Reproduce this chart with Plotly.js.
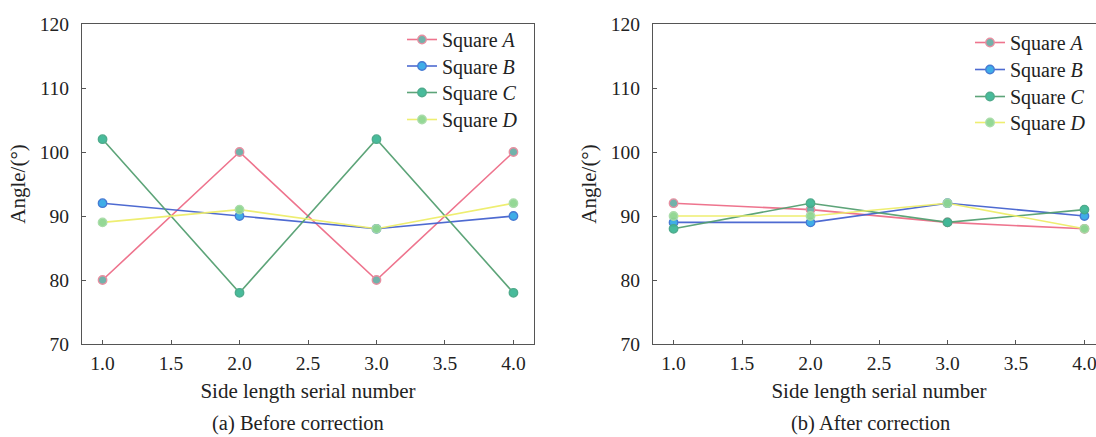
<!DOCTYPE html>
<html>
<head>
<meta charset="utf-8">
<script src="https://cdn.plot.ly/plotly-3.0.1.min.js"></script>
<style>
html,body{margin:0;padding:0;width:1096px;height:437px;overflow:hidden;background:#fff;}
#chart{width:1110px;height:437px;}
</style>
</head>
<body>
<div id="chart"></div>
<script>
// ---- data ----
const sideNumbers = [1, 2, 3, 4];
const seriesNames = ["Square <i>A</i>", "Square <i>B</i>", "Square <i>C</i>", "Square <i>D</i>"];
const beforeA = [80, 100, 80, 100];
const beforeB = [92, 90, 88, 90];
const beforeC = [102, 78, 102, 78];
const beforeD = [89, 91, 88, 92];
const afterA = [92, 91, 89, 88];
const afterB = [89, 89, 92, 90];
const afterC = [88, 92, 89, 91];
const afterD = [90, 90, 92, 88];
const xTitle = "Side length serial number";
const yTitle = "Angle/(°)";
const captions = ["(a) Before correction", "(b) After correction"];

// ---- styles ----
const W = 1110, H = 437;
const lineColors = ["#ee6d88", "#4563cf", "#55a072", "#eeee6a"];
const markerFills = ["#6aaea6", "#35a9e6", "#3fb896", "#8fd690"];
const markerEdges = ["#e58a9c", "#3d74d2", "#46a786", "#a6dba6"];
const FONT = "Liberation Serif, Times New Roman, serif";
const TXT = "#222";

function px(x){ return x / W; }
function py(y){ return 1 - y / H; }

const before = [beforeA, beforeB, beforeC, beforeD];
const after = [afterA, afterB, afterC, afterD];

// legend entry tops (px) for each panel
const legendTopsA = [20, 46.5, 73, 100];
const legendTopsB = [23, 50, 77, 103];
const legendFont = {family: FONT, size: 20, color: TXT};

const traces = [];
const legends = {};
let legendCount = 0;
function addSet(sets, xa, ya, legendX, tops){
  sets.forEach((vals, i) => {
    legendCount += 1;
    const id = legendCount === 1 ? "legend" : "legend" + legendCount;
    legends[id] = {x: px(legendX), y: py(tops[i]), xanchor: "left", yanchor: "top",
      bgcolor: "rgba(0,0,0,0)", font: legendFont, itemwidth: 30};
    traces.push({
      x: sideNumbers, y: vals, type: "scatter", mode: "lines+markers",
      name: seriesNames[i], xaxis: xa, yaxis: ya, legend: id,
      line: {color: lineColors[i], width: 1.6},
      marker: {size: 8.5, color: markerFills[i], line: {color: markerEdges[i], width: 1.3}},
      opacity: 0.95
    });
  });
}
addSet(before, "x", "y", 402, legendTopsA);
addSet(after, "x2", "y2", 970, legendTopsB);

const axisCommon = {
  showgrid: false, zeroline: false, showline: true, mirror: true,
  linecolor: "#555", linewidth: 1.2,
  ticks: "inside", ticklen: 4, tickwidth: 1, tickcolor: "#555",
  tickfont: {family: FONT, size: 19.5, color: TXT}
};
const xCommon = Object.assign({}, axisCommon, {
  range: [0.85, 4.15], dtick: 0.5, tick0: 1, tickformat: ".1f",
  title: {text: xTitle, font: {family: FONT, size: 21, color: TXT}, standoff: 10},
  ticklabelstandoff: 1
});
const yCommon = Object.assign({}, axisCommon, {
  range: [70, 120], dtick: 10, tick0: 70,
  title: {text: yTitle, font: {family: FONT, size: 21, color: TXT}, standoff: 8},
  ticklabelstandoff: 8
});

const yDom = [py(344), py(24)];
const layout = Object.assign({
  width: W, height: H,
  margin: {l: 0, r: 0, t: 0, b: 0},
  paper_bgcolor: "#fff", plot_bgcolor: "#fff",
  font: {family: FONT, color: TXT},
  showlegend: true,
  xaxis: Object.assign({}, xCommon, {domain: [px(82), px(534)], anchor: "y"}),
  yaxis: Object.assign({}, yCommon, {domain: yDom, anchor: "x"}),
  xaxis2: Object.assign({}, xCommon, {domain: [px(653), px(1105)], anchor: "y2"}),
  yaxis2: Object.assign({}, yCommon, {domain: yDom, anchor: "x2"}),
  annotations: [
    {text: captions[0], x: px(298), y: py(423), xref: "paper", yref: "paper", showarrow: false,
     xanchor: "center", yanchor: "middle", font: {family: FONT, size: 20.5, color: TXT}},
    {text: captions[1], x: px(870), y: py(423), xref: "paper", yref: "paper", showarrow: false,
     xanchor: "center", yanchor: "middle", font: {family: FONT, size: 20.5, color: TXT}}
  ]
}, legends);

Plotly.newPlot("chart", traces, layout, {staticPlot: true, displayModeBar: false});
</script>
</body>
</html>
